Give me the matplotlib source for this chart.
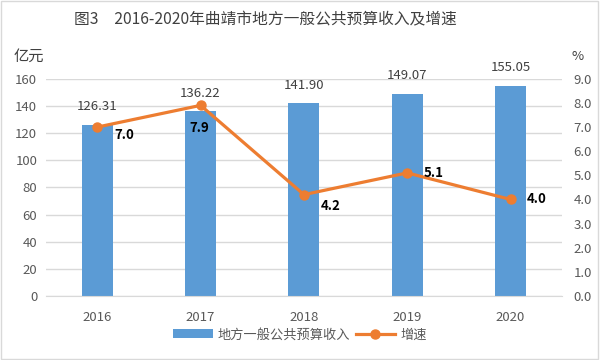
import matplotlib
matplotlib.use("Agg")
import matplotlib.pyplot as plt
from matplotlib.patches import Rectangle
import numpy as np

plt.rcParams['font.family'] = ['Noto Sans CJK SC', 'DejaVu Sans']

years = ["2016", "2017", "2018", "2019", "2020"]
revenue = [126.31, 136.22, 141.90, 149.07, 155.05]
growth = [7.0, 7.9, 4.2, 5.1, 4.0]
bar_name = "地方一般公共预算收入"
line_name = "增速"
title = "图3　2016-2020年曲靖市地方一般公共预算收入及增速"

# label offsets (points) for growth labels: (dx, dy, ha)
growth_label_style = [(12, -6, "left"), (-1, -16, "center"), (12, -8, "left"),
                      (12, 0, "left"), (12, 0, "left")]

fig = plt.figure(figsize=(6, 3.6), dpi=100)
ax = fig.add_axes([0.076, 0.178, 0.861, 0.603])
ax2 = ax.twinx()

x = np.arange(len(years))
bars = ax.bar(x, revenue, width=0.30, color="#5B9BD5", zorder=2, label=bar_name)
ax.set_ylim(0, 160)
ax.set_yticks(np.arange(0, 161, 20))
ax.set_xlim(-0.5, len(years) - 0.5)
ax.set_xticks(x)
ax.set_xticklabels(years)
ax.grid(axis="y", color="#d9d9d9", linewidth=1, zorder=0)
ax.set_axisbelow(True)
for s in ["top", "right", "left"]:
    ax.spines[s].set_visible(False)
ax.spines["bottom"].set_color("#d9d9d9")
ax.tick_params(axis="both", length=0, labelsize=9.5, colors="#595959", pad=6)
ax.tick_params(axis="x", pad=11)
for xi, v in zip(x, revenue):
    ax.annotate(f"{v:.2f}", (xi, v), xytext=(0, 13), textcoords="offset points",
                ha="center", va="center", fontsize=9.5, color="#404040")

line, = ax2.plot(x, growth, color="#ED7D31", linewidth=2.3, marker="o", markersize=6.5,
                 zorder=3, label=line_name)
ax2.set_ylim(0, 9)
ax2.set_yticks(np.arange(0, 9.1, 1))
ax2.set_yticklabels([f"{t:.1f}" for t in np.arange(0, 9.1, 1)])
for s in ["top", "right", "left", "bottom"]:
    ax2.spines[s].set_visible(False)
ax2.tick_params(axis="y", length=0, labelsize=9.5, colors="#595959", pad=8)
for xi, v, (dx, dy, ha) in zip(x, growth, growth_label_style):
    ax2.annotate(f"{v:.1f}", (xi, v), xytext=(dx, dy), textcoords="offset points",
                 ha=ha, va="center", fontsize=9.5, fontweight="bold", color="black")

fig.text(0.442, 0.944, title, ha="center", va="center", fontsize=11.3, color="#404040")
fig.text(0.022, 0.845, "亿元", ha="left", va="center", fontsize=11, color="#404040")
fig.text(0.952, 0.842, "%", ha="left", va="center", fontsize=9.5, color="#404040")

fig.legend(handles=[bars, line], labels=[bar_name, line_name], loc="center",
           bbox_to_anchor=(0.5, 0.07), ncol=2, frameon=False, fontsize=9.5,
           handlelength=3, columnspacing=0.4, handletextpad=0.4, labelcolor="#595959")

fig.patches.append(Rectangle((0.002, 0.003), 0.995, 0.994, transform=fig.transFigure,
                             fill=False, edgecolor="#d9d9d9", linewidth=1))

fig.savefig("out.png", dpi=100)
